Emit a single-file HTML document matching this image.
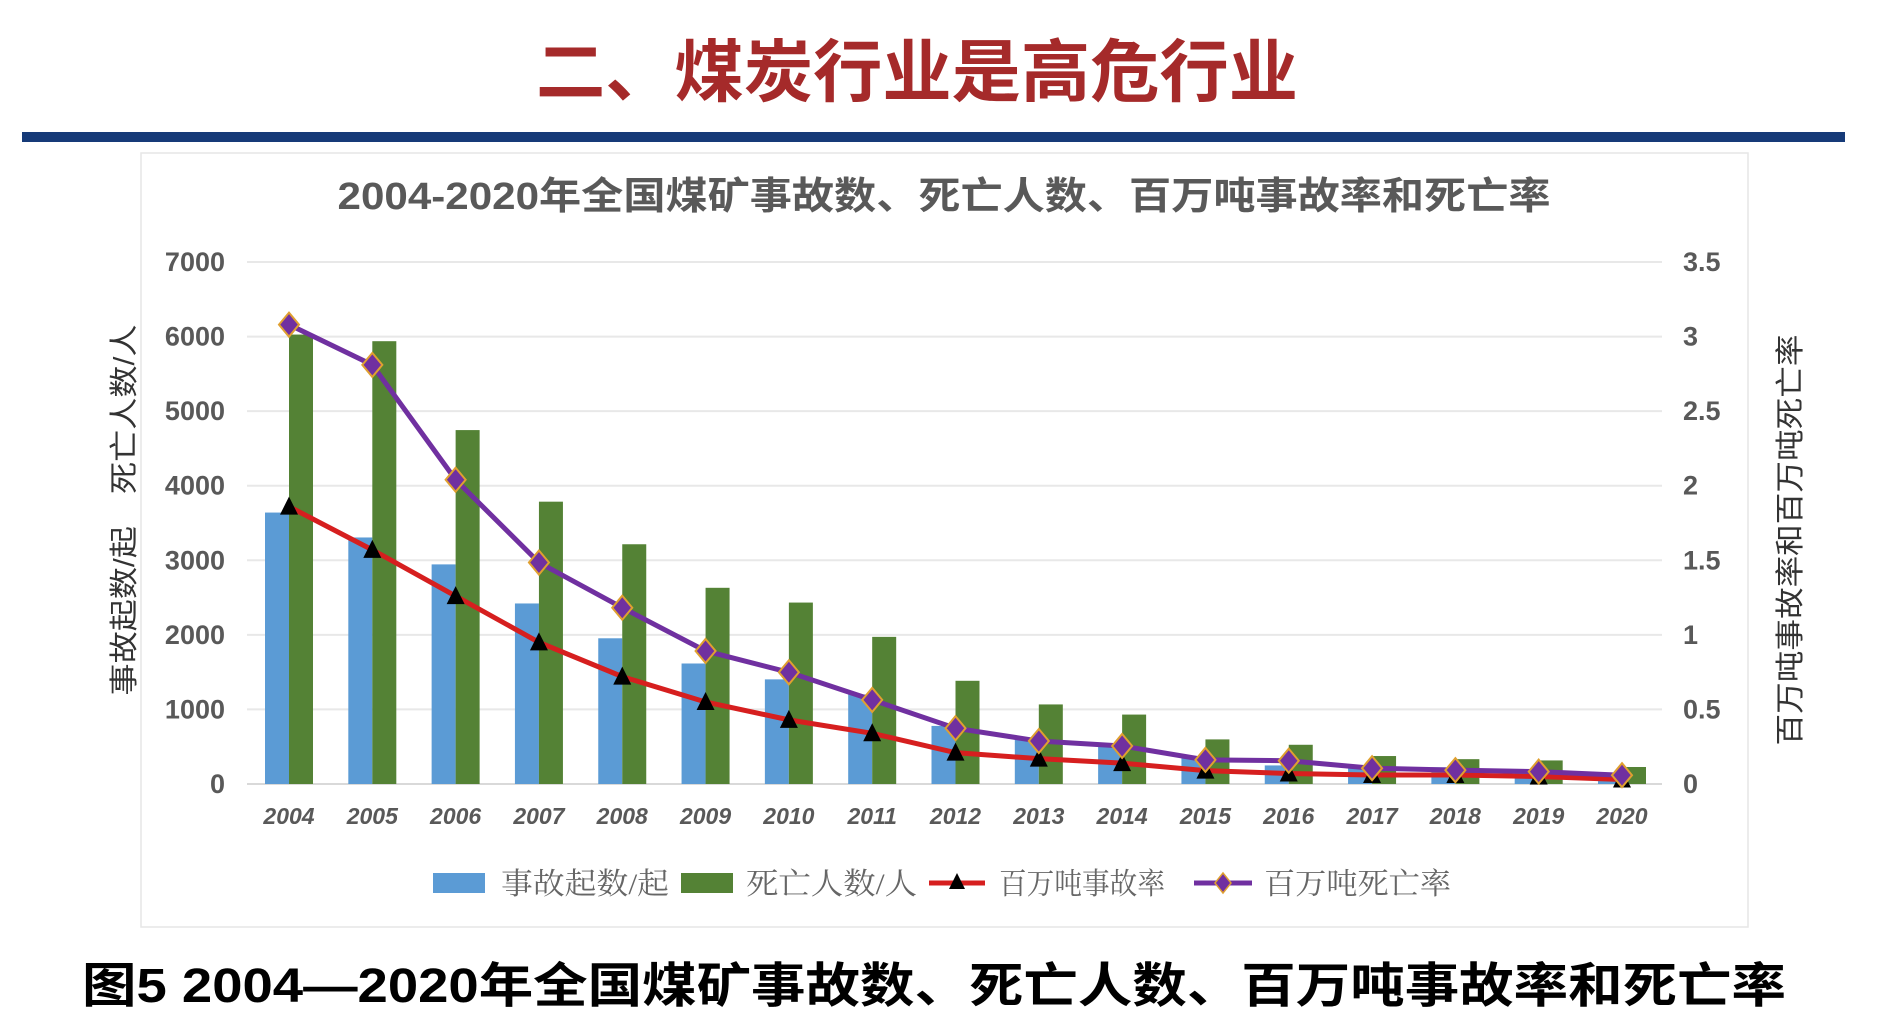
<!DOCTYPE html>
<html><head><meta charset="utf-8"><style>
html,body{margin:0;padding:0;background:#fff;}
body{width:1888px;height:1021px;overflow:hidden;position:relative;font-family:"Liberation Sans","Noto Sans CJK SC",sans-serif;}
</style></head><body>
<svg id="chart" width="1888" height="1021" xmlns="http://www.w3.org/2000/svg" style="position:absolute;left:0;top:0">
<text x="917" y="96" text-anchor="middle" textLength="762" lengthAdjust="spacingAndGlyphs" font-size="68" font-weight="bold" fill="#a52a2a" font-family="Liberation Sans,Noto Sans CJK SC,sans-serif">二、煤炭行业是高危行业</text>
<rect x="22" y="132" width="1823" height="10" fill="#163a78"/>
<rect x="141" y="153" width="1607" height="774" fill="#fff" stroke="#e6e6e6" stroke-width="1.5"/>
<text x="944" y="209" text-anchor="middle" textLength="1213" lengthAdjust="spacingAndGlyphs" font-size="38" font-weight="bold" fill="#595959" font-family="Liberation Sans,Noto Sans CJK SC,sans-serif">2004-2020年全国煤矿事故数、死亡人数、百万吨事故率和死亡率</text>
<g id="grid"></g><g id="bars"></g><g id="lines"></g><g id="axes"></g>
<text transform="translate(134,510) rotate(-90)" text-anchor="middle" textLength="371" lengthAdjust="spacingAndGlyphs" font-size="29" fill="#333" font-family="Liberation Sans,Noto Sans CJK SC,sans-serif">事故起数/起　死亡人数/人</text>
<text transform="translate(1800,540) rotate(-90)" text-anchor="middle" textLength="411" lengthAdjust="spacingAndGlyphs" font-size="29" fill="#333" font-family="Liberation Sans,Noto Sans CJK SC,sans-serif">百万吨事故率和百万吨死亡率</text>
<g font-size="30" fill="#666" font-family="Liberation Serif,Noto Serif CJK SC,serif">
<rect x="433" y="873" width="52" height="20" fill="#5b9bd5"/>
<text x="501" y="894" textLength="168" lengthAdjust="spacingAndGlyphs">事故起数/起</text>
<rect x="681" y="873" width="52" height="20" fill="#548235"/>
<text x="746" y="894" textLength="171" lengthAdjust="spacingAndGlyphs">死亡人数/人</text>
<line x1="929" y1="883" x2="985" y2="883" stroke="#d61f1f" stroke-width="5"/>
<polygon points="957,873 965,889 949,889" fill="#000"/>
<text x="999" y="894" textLength="166" lengthAdjust="spacingAndGlyphs">百万吨事故率</text>
<line x1="1194" y1="883" x2="1252" y2="883" stroke="#7030a0" stroke-width="5"/>
<polygon points="1223,873 1231,883 1223,893 1215,883" fill="#7030a0" stroke="#e0a030" stroke-width="1.5"/>
<text x="1264" y="894" textLength="187" lengthAdjust="spacingAndGlyphs">百万吨死亡率</text>
</g>
<text x="82" y="1002" textLength="1704" lengthAdjust="spacingAndGlyphs" font-size="48" font-weight="bold" fill="#000" font-family="Liberation Sans,Noto Sans CJK SC,sans-serif">图5  2004—2020年全国煤矿事故数、死亡人数、百万吨事故率和死亡率</text>
</svg>
<script>
const years=["2004","2005","2006","2007","2008","2009","2010","2011","2012","2013","2014","2015","2016","2017","2018","2019","2020"];
const accidents=[3640,3306,2945,2421,1954,1616,1403,1201,779,604,509,352,249,219,224,170,122];
const deaths=[6027,5938,4746,3786,3215,2631,2433,1973,1384,1067,931,598,526,375,333,316,228];
const accidentRate=[1.86,1.57,1.26,0.95,0.72,0.55,0.43,0.34,0.21,0.17,0.14,0.09,0.07,0.06,0.06,0.05,0.03];
const deathRate=[3.08,2.81,2.04,1.485,1.182,0.892,0.749,0.564,0.374,0.288,0.255,0.162,0.156,0.106,0.093,0.083,0.059];
const leftTicks=["0","1000","2000","3000","4000","5000","6000","7000"];
const rightTicks=["0","0.5","1","1.5","2","2.5","3","3.5"];
const NS="http://www.w3.org/2000/svg";
const y0=784,y1=262,x0=289,dx=(1622-289)/16;
const xS=i=>x0+i*dx;
const yL=v=>y0-(v/7000)*(y0-y1);
const yR=v=>y0-(v/3.5)*(y0-y1);
function mk(t,a,p){const e=document.createElementNS(NS,t);for(const k in a)e.setAttribute(k,a[k]);p.appendChild(e);return e;}
const grid=document.getElementById('grid'),axes=document.getElementById('axes'),bars=document.getElementById('bars'),lines=document.getElementById('lines');
leftTicks.forEach((t,i)=>{const y=yL(+t);
 const g=mk('line',{x1:247,x2:1662,y1:y,y2:y,stroke:i==0?'#d9d9d9':'#e8e8e8','stroke-width':2},grid);
 
 const l=mk('text',{x:225,y:y+9,'text-anchor':'end','font-size':27,'font-weight':'bold',fill:'#595959'},axes);l.textContent=t;
 });
rightTicks.forEach(t=>{const y=yR(+t);
 const l=mk('text',{x:1683,y:y+9,'font-size':27,'font-weight':'bold',fill:'#595959'},axes);l.textContent=t;
 });
years.forEach((yr,i)=>{const x=xS(i);
 const l=mk('text',{x:x,y:824,'text-anchor':'middle','font-size':23,'font-style':'italic','font-weight':'bold',fill:'#595959'},axes);l.textContent=yr;
 
 const b=mk('rect',{x:x-24,y:yL(accidents[i]),width:24,height:y0-yL(accidents[i]),fill:'#5b9bd5'},bars);
 
 const g=mk('rect',{x:x,y:yL(deaths[i]),width:24,height:y0-yL(deaths[i]),fill:'#548235'},bars);
 });
const ar=mk('polyline',{points:accidentRate.map((v,i)=>xS(i)+','+yR(v)).join(' '),fill:'none',stroke:'#d61f1f','stroke-width':5},lines);

const dr=mk('polyline',{points:deathRate.map((v,i)=>xS(i)+','+yR(v)).join(' '),fill:'none',stroke:'#7030a0','stroke-width':5},lines);

accidentRate.forEach((v,i)=>{const x=xS(i),y=yR(v);
 const p=mk('polygon',{points:`${x},${y-10} ${x+9},${y+8} ${x-9},${y+8}`,fill:'#000'},lines);
 });
deathRate.forEach((v,i)=>{const x=xS(i),y=yR(v);
 const p=mk('polygon',{points:`${x},${y-12} ${x+10},${y} ${x},${y+12} ${x-10},${y}`,fill:'#7030a0',stroke:'#e0a030','stroke-width':2},lines);
 });
</script>
</body></html>
